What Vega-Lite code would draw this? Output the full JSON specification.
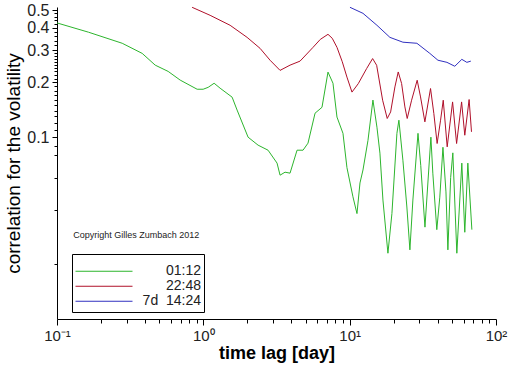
{
  "$schema": "https://vega.github.io/schema/vega-lite/v6.json",
  "width": 439,
  "height": 312,
  "autosize": "none",
  "padding": {"left": 57, "top": 7, "right": 16, "bottom": 47},
  "background": "white",
  "config": {"view": {"stroke": null}, "font": "Liberation Sans"},
  "datasets": {
    "curves": [
      {"s": "01:12", "lag": 0.100, "corr": 0.425},
      {"s": "01:12", "lag": 0.164, "corr": 0.378},
      {"s": "01:12", "lag": 0.279, "corr": 0.3285},
      {"s": "01:12", "lag": 0.382, "corr": 0.289},
      {"s": "01:12", "lag": 0.469, "corr": 0.249},
      {"s": "01:12", "lag": 0.575, "corr": 0.230},
      {"s": "01:12", "lag": 0.695, "corr": 0.206},
      {"s": "01:12", "lag": 0.907, "corr": 0.1835},
      {"s": "01:12", "lag": 0.997, "corr": 0.1835},
      {"s": "01:12", "lag": 1.079, "corr": 0.188},
      {"s": "01:12", "lag": 1.185, "corr": 0.198},
      {"s": "01:12", "lag": 1.302, "corr": 0.186},
      {"s": "01:12", "lag": 1.573, "corr": 0.166},
      {"s": "01:12", "lag": 1.701, "corr": 0.141},
      {"s": "01:12", "lag": 2.022, "corr": 0.100},
      {"s": "01:12", "lag": 2.366, "corr": 0.0904},
      {"s": "01:12", "lag": 2.769, "corr": 0.0848},
      {"s": "01:12", "lag": 3.19, "corr": 0.072},
      {"s": "01:12", "lag": 3.344, "corr": 0.0618},
      {"s": "01:12", "lag": 3.617, "corr": 0.0642},
      {"s": "01:12", "lag": 3.913, "corr": 0.0634},
      {"s": "01:12", "lag": 4.37, "corr": 0.0848},
      {"s": "01:12", "lag": 4.80, "corr": 0.0848},
      {"s": "01:12", "lag": 5.19, "corr": 0.0927},
      {"s": "01:12", "lag": 5.80, "corr": 0.1355},
      {"s": "01:12", "lag": 6.47, "corr": 0.146},
      {"s": "01:12", "lag": 7.11, "corr": 0.228},
      {"s": "01:12", "lag": 7.69, "corr": 0.198},
      {"s": "01:12", "lag": 8.19, "corr": 0.129},
      {"s": "01:12", "lag": 9.00, "corr": 0.105},
      {"s": "01:12", "lag": 9.58, "corr": 0.068},
      {"s": "01:12", "lag": 10.53, "corr": 0.047},
      {"s": "01:12", "lag": 11.22, "corr": 0.038},
      {"s": "01:12", "lag": 11.76, "corr": 0.056},
      {"s": "01:12", "lag": 12.33, "corr": 0.066},
      {"s": "01:12", "lag": 13.34, "corr": 0.096},
      {"s": "01:12", "lag": 14.42, "corr": 0.160},
      {"s": "01:12", "lag": 15.36, "corr": 0.1135},
      {"s": "01:12", "lag": 16.10, "corr": 0.0817},
      {"s": "01:12", "lag": 16.88, "corr": 0.0451},
      {"s": "01:12", "lag": 18.26, "corr": 0.023},
      {"s": "01:12", "lag": 19.44, "corr": 0.038},
      {"s": "01:12", "lag": 21.03, "corr": 0.105},
      {"s": "01:12", "lag": 21.7, "corr": 0.124},
      {"s": "01:12", "lag": 23.11, "corr": 0.0747},
      {"s": "01:12", "lag": 24.6, "corr": 0.0413},
      {"s": "01:12", "lag": 25.8, "corr": 0.024},
      {"s": "01:12", "lag": 27.04, "corr": 0.0451},
      {"s": "01:12", "lag": 29.3, "corr": 0.105},
      {"s": "01:12", "lag": 30.6, "corr": 0.07},
      {"s": "01:12", "lag": 32.7, "corr": 0.032},
      {"s": "01:12", "lag": 35.9, "corr": 0.100},
      {"s": "01:12", "lag": 37.0, "corr": 0.0634},
      {"s": "01:12", "lag": 39.4, "corr": 0.031},
      {"s": "01:12", "lag": 41.3, "corr": 0.0468},
      {"s": "01:12", "lag": 43.4, "corr": 0.088},
      {"s": "01:12", "lag": 45.5, "corr": 0.05},
      {"s": "01:12", "lag": 46.9, "corr": 0.024},
      {"s": "01:12", "lag": 49.0, "corr": 0.06},
      {"s": "01:12", "lag": 50.7, "corr": 0.082},
      {"s": "01:12", "lag": 54.0, "corr": 0.023},
      {"s": "01:12", "lag": 58.4, "corr": 0.072},
      {"s": "01:12", "lag": 61.2, "corr": 0.030},
      {"s": "01:12", "lag": 64.2, "corr": 0.072},
      {"s": "01:12", "lag": 68.4, "corr": 0.031},
      {"s": "22:48", "lag": 0.838, "corr": 0.518},
      {"s": "22:48", "lag": 1.113, "corr": 0.468},
      {"s": "22:48", "lag": 1.524, "corr": 0.4125},
      {"s": "22:48", "lag": 1.991, "corr": 0.354},
      {"s": "22:48", "lag": 2.442, "corr": 0.308},
      {"s": "22:48", "lag": 2.858, "corr": 0.265},
      {"s": "22:48", "lag": 3.344, "corr": 0.233},
      {"s": "22:48", "lag": 3.913, "corr": 0.249},
      {"s": "22:48", "lag": 4.58, "corr": 0.262},
      {"s": "22:48", "lag": 5.62, "corr": 0.312},
      {"s": "22:48", "lag": 6.3, "corr": 0.345},
      {"s": "22:48", "lag": 7.11, "corr": 0.368},
      {"s": "22:48", "lag": 7.6, "corr": 0.35},
      {"s": "22:48", "lag": 8.19, "corr": 0.312},
      {"s": "22:48", "lag": 8.9, "corr": 0.26},
      {"s": "22:48", "lag": 9.58, "corr": 0.214},
      {"s": "22:48", "lag": 10.37, "corr": 0.177},
      {"s": "22:48", "lag": 11.45, "corr": 0.197},
      {"s": "22:48", "lag": 13.06, "corr": 0.2385},
      {"s": "22:48", "lag": 14.35, "corr": 0.2706},
      {"s": "22:48", "lag": 15.29, "corr": 0.2486},
      {"s": "22:48", "lag": 16.80, "corr": 0.1597},
      {"s": "22:48", "lag": 18.06, "corr": 0.1267},
      {"s": "22:48", "lag": 19.05, "corr": 0.1377},
      {"s": "22:48", "lag": 20.38, "corr": 0.189},
      {"s": "22:48", "lag": 21.47, "corr": 0.2284},
      {"s": "22:48", "lag": 22.64, "corr": 0.1973},
      {"s": "22:48", "lag": 23.85, "corr": 0.1467},
      {"s": "22:48", "lag": 24.73, "corr": 0.1267},
      {"s": "22:48", "lag": 26.5, "corr": 0.1597},
      {"s": "22:48", "lag": 28.93, "corr": 0.2057},
      {"s": "22:48", "lag": 30.5, "corr": 0.1665},
      {"s": "22:48", "lag": 32.66, "corr": 0.1214},
      {"s": "22:48", "lag": 35.7, "corr": 0.1852},
      {"s": "22:48", "lag": 37.6, "corr": 0.135},
      {"s": "22:48", "lag": 39.6, "corr": 0.0923},
      {"s": "22:48", "lag": 41.8, "corr": 0.124},
      {"s": "22:48", "lag": 43.6, "corr": 0.1597},
      {"s": "22:48", "lag": 46.4, "corr": 0.0885},
      {"s": "22:48", "lag": 50.5, "corr": 0.1563},
      {"s": "22:48", "lag": 53.8, "corr": 0.0923},
      {"s": "22:48", "lag": 58.2, "corr": 0.1563},
      {"s": "22:48", "lag": 61.2, "corr": 0.1025},
      {"s": "22:48", "lag": 65.5, "corr": 0.1611},
      {"s": "22:48", "lag": 68.0, "corr": 0.107},
      {"s": "7d\u00a0\u00a014:24", "lag": 10.05, "corr": 0.518},
      {"s": "7d\u00a0\u00a014:24", "lag": 12.33, "corr": 0.480},
      {"s": "7d\u00a0\u00a014:24", "lag": 15.36, "corr": 0.4125},
      {"s": "7d\u00a0\u00a014:24", "lag": 18.84, "corr": 0.354},
      {"s": "7d\u00a0\u00a014:24", "lag": 23.11, "corr": 0.333},
      {"s": "7d\u00a0\u00a014:24", "lag": 28.8, "corr": 0.3285},
      {"s": "7d\u00a0\u00a014:24", "lag": 35.3, "corr": 0.289},
      {"s": "7d\u00a0\u00a014:24", "lag": 40.1, "corr": 0.265},
      {"s": "7d\u00a0\u00a014:24", "lag": 46.2, "corr": 0.258},
      {"s": "7d\u00a0\u00a014:24", "lag": 52.3, "corr": 0.2455},
      {"s": "7d\u00a0\u00a014:24", "lag": 58.4, "corr": 0.268},
      {"s": "7d\u00a0\u00a014:24", "lag": 63.2, "corr": 0.258},
      {"s": "7d\u00a0\u00a014:24", "lag": 67.3, "corr": 0.262}
    ],
    "notes": [
      {"lag": 0.1292, "corr": 0.02894, "text": "Copyright Gilles Zumbach 2012"}
    ]
  },
  "layer": [
    {
      "data": {"name": "curves"},
      "mark": {"type": "line", "strokeWidth": 1},
      "encoding": {
        "x": {
          "field": "lag", "type": "quantitative",
          "scale": {"type": "log", "domain": [0.1, 100], "nice": false},
          "axis": {
            "values": [0.1,0.2,0.3,0.4,0.5,0.6,0.7,0.8,0.9,1,2,3,4,5,6,7,8,9,10,20,30,40,50,60,70,80,90,100],
            "labelExpr": "datum.value==0.1?'10\u207b\u00b9':datum.value==1?'10\u2070':datum.value==10?'10\u00b9':datum.value==100?'10\u00b2':''",
            "tickSize": {"condition": {"test": "datum.value==0.1||datum.value==1||datum.value==10||datum.value==100", "value": 6}, "value": 4},
            "tickColor": "black", "domainColor": "black", "grid": false,
            "labelFontSize": 15, "labelColor": "#222", "labelPadding": 3, "labelFlush": false, "labelOverlap": false,
            "title": "time lag [day]", "titleFontSize": 18, "titleFontWeight": "bold", "titleColor": "black", "titlePadding": 1
          }
        },
        "y": {
          "field": "corr", "type": "quantitative",
          "scale": {"type": "log", "domain": [0.01, 0.52], "nice": false},
          "axis": {
            "values": [0.5,0.48,0.46,0.44,0.42,0.4,0.38,0.36,0.34,0.32,0.3,0.29,0.28,0.27,0.26,0.25,0.24,0.23,0.22,0.21,0.2,0.19,0.18,0.17,0.16,0.15,0.14,0.13,0.12,0.11,0.1,0.09,0.08,0.06,0.04,0.02],
            "labelExpr": "indexof([0.1,0.2,0.3,0.4,0.5], datum.value) >= 0 ? format(datum.value, '.1f') : ''",
            "tickSize": {"condition": {"test": "indexof([0.1,0.2,0.3,0.4,0.5], datum.value) >= 0", "value": 5}, "value": 3},
            "tickColor": "black", "domainColor": "black", "grid": false,
            "labelFontSize": 16, "labelColor": "#222", "labelPadding": 3, "labelOverlap": false, "labelFlush": false,
            "title": "correlation for the volatility", "titleFontSize": 19, "titleFontWeight": "normal", "titleColor": "black", "titlePadding": 3
          }
        },
        "color": {
          "field": "s", "type": "nominal",
          "scale": {"domain": ["01:12", "22:48", "7d\u00a0\u00a014:24"], "range": ["#2db52d", "#b0102a", "#3030c0"]},
          "legend": {
            "orient": "none", "legendX": 15, "legendY": 247,
            "title": " ", "titleFontSize": 7, "titlePadding": 0,
            "strokeColor": "black", "fillColor": "white", "padding": 3,
            "symbolType": "stroke", "symbolSize": 3249, "symbolStrokeWidth": 1,
            "clipHeight": 14.5, "rowPadding": 0,
            "labelAlign": "right", "labelOffset": 68, "labelFontSize": 14, "labelColor": "#222", "labelLimit": 0
          }
        }
      }
    },
    {
      "data": {"name": "notes"},
      "mark": {"type": "text", "align": "left", "baseline": "middle", "fontSize": 9, "color": "#222"},
      "encoding": {
        "x": {"field": "lag", "type": "quantitative"},
        "y": {"field": "corr", "type": "quantitative"},
        "text": {"field": "text"}
      }
    }
  ]
}
